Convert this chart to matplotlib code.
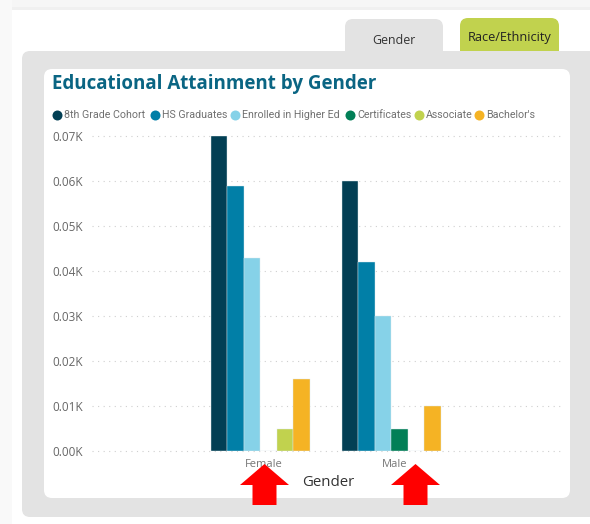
"""Educational attainment by gender, dashboard screenshot style."""

import matplotlib

matplotlib.use("Agg")
import matplotlib.pyplot as plt
import numpy as np
from matplotlib.patches import FancyBboxPatch, Polygon, Rectangle
from matplotlib.transforms import ScaledTranslation

CATEGORIES = ["Female", "Male"]
SERIES_NAMES = [
    "8th Grade Cohort",
    "HS Graduates",
    "Enrolled in Higher Ed",
    "Certificates",
    "Associate",
    "Bachelor's",
]
FEMALE_VALUES = [0.07, 0.059, 0.043, 0.0, 0.005, 0.016]
MALE_VALUES = [0.06, 0.042, 0.03, 0.005, 0.0, 0.01]
Y_TICKS = [0.0, 0.01, 0.02, 0.03, 0.04, 0.05, 0.06, 0.07]
TABS = ["Gender", "Race/Ethnicity"]

COLORS = ["#023F54", "#017FA7", "#86D2E8", "#027F57", "#C1D24E", "#F5B324"]
TEAL = "#0A6583"
W, H = 590, 524

plt.rcParams["font.family"] = ["Open Sans", "DejaVu Sans"]
fig = plt.figure(figsize=(W / 100, H / 100), dpi=100)

# backdrop in pixel coordinates, y pointing down
bg = fig.add_axes([0, 0, 1, 1], zorder=0)
bg.set_xlim(0, W)
bg.set_ylim(H, 0)
bg.axis("off")


def rounded(x0, y0, x1, y1, color, r=8, z=1):
    bg.add_patch(
        FancyBboxPatch(
            (x0 + r, y0 + r),
            x1 - x0 - 2 * r,
            y1 - y0 - 2 * r,
            boxstyle=f"round,pad={r},rounding_size={r}",
            fc=color,
            ec="none",
            zorder=z,
        )
    )


bg.add_patch(Rectangle((0, 0), W, 7, fc="#F6F6F6", ec="none", zorder=0))
bg.add_patch(Rectangle((0, 7), W, 3, fc="#F0F0F0", ec="none", zorder=0))
bg.add_patch(Rectangle((0, 0), 12, H, fc="#F9F9F9", ec="none", zorder=0))
rounded(345, 19, 443, 70, "#E3E3E3")
rounded(460, 18, 559, 70, "#C1D24E")
rounded(22, 51, 610, 517, "#E3E3E3", z=2)
rounded(44, 69, 570, 498, "#FFFFFF", z=3)

bg.text(394, 40, TABS[0], ha="center", va="center", fontsize=8.9, color="#333333", zorder=5)
bg.text(509.5, 38, TABS[1], ha="center", va="center", fontsize=9.2, color="#222222", zorder=5)
bg.text(52, 84, "Educational Attainment by Gender", ha="left", va="center",
        fontsize=13.5, fontweight="bold", color=TEAL, zorder=5)

# legend entries sit at their own measured spots
legend_x = [57, 154.5, 235, 350, 419, 479]
for x, name, color in zip(legend_x, SERIES_NAMES, COLORS):
    bg.plot(x, 114.5, "o", ms=7.2, color=color, mew=0, zorder=5)
    bg.text(x + 7, 114.5, name, ha="left", va="center", fontsize=7.7,
            color="#707070", family="Roboto", zorder=5)

# the chart itself
ax = fig.add_axes([92 / W, 1 - 451 / H, (562 - 92) / W, (451 - 136) / H], zorder=4)
ax.patch.set_alpha(0)
x = np.arange(len(CATEGORIES))
bar_w = 0.126
for i, (color, name) in enumerate(zip(COLORS, SERIES_NAMES)):
    vals = [FEMALE_VALUES[i], MALE_VALUES[i]]
    ax.bar(x + (i - 2.5) * bar_w, vals, bar_w, color=color, label=name,
           edgecolor="#DDE8EC", linewidth=0.3, zorder=3)

ax.set_xlim(-1.286, 2.302)
ax.set_ylim(0, 0.07)
ax.set_yticks(Y_TICKS)
ax.set_yticklabels([f"{v:.2f}K" for v in Y_TICKS], fontsize=8.5, color="#666666")
ax.set_xticks(x)
ax.set_xticklabels(CATEGORIES, fontsize=8, color="#777777")
ax.tick_params(length=0)
ax.tick_params(axis="y", pad=6.5)
ax.tick_params(axis="x", pad=6)
ax.grid(axis="y", color="#CFCFCF", linestyle=(0, (1, 4)), linewidth=0.8, zorder=0)
ax.set_axisbelow(True)
for spine in ax.spines.values():
    spine.set_visible(False)
for gridline in ax.get_ygridlines():
    gridline.set_clip_on(False)
# category labels sit a little right of the bar groups
nudge = ScaledTranslation(3 / 100, 0, fig.dpi_scale_trans)
for label in ax.get_xticklabels():
    label.set_transform(label.get_transform() + nudge)

# overlay for the axis title and the red callout arrows
top = fig.add_axes([0, 0, 1, 1], zorder=6)
top.set_xlim(0, W)
top.set_ylim(H, 0)
top.axis("off")
top.text(328, 482, "Gender", ha="center", va="center", fontsize=10.8, color="#333333")
for cx in [264.5, 415.5]:
    top.add_patch(
        Polygon(
            [(cx, 464), (cx + 24.5, 485), (cx + 12, 485), (cx + 12, 505),
             (cx - 12, 505), (cx - 12, 485), (cx - 24.5, 485)],
            closed=True, fc="#FF0000", ec="none",
        )
    )

fig.savefig("out.png", dpi=100)
